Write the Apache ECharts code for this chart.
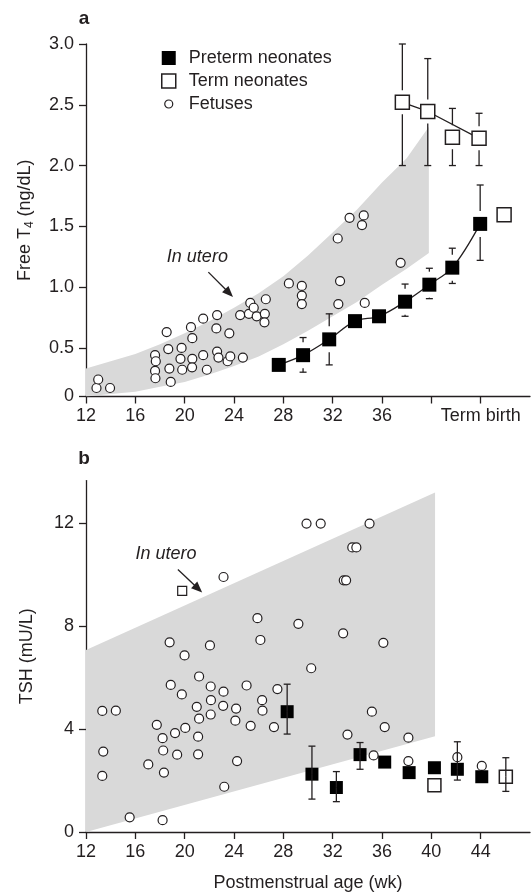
<!DOCTYPE html>
<html><head><meta charset="utf-8">
<script src="https://cdn.jsdelivr.net/npm/echarts@6/dist/echarts.min.js"></script>
<style>html,body{margin:0;padding:0;background:#fff}#c{width:531px;height:893px}</style>
</head><body><div id="c"></div>
<script>
// ---------- Panel a: Free T4 (ng/dL) ----------
const fetusT4 = [
 [12.85,0.17],[12.99,0.24],[13.95,0.17],[17.60,0.44],[17.66,0.39],[17.60,0.31],[17.63,0.25],
 [18.54,0.63],[18.67,0.49],[18.76,0.33],[18.87,0.22],[19.75,0.50],[19.66,0.41],[19.80,0.32],
 [20.51,0.67],[20.62,0.58],[20.62,0.41],[20.60,0.34],[21.50,0.74],[21.50,0.44],[21.80,0.32],
 [22.63,0.77],[22.57,0.66],[22.63,0.47],[22.74,0.42],[23.62,0.62],[23.48,0.39],[23.70,0.43],
 [24.72,0.42],[24.50,0.77],[25.32,0.87],[25.21,0.78],[25.60,0.83],[25.84,0.76],[26.58,0.90],
 [26.50,0.78],[26.47,0.71],[28.45,1.03],[29.50,1.01],[29.50,0.93],[29.50,0.86],[32.60,1.05],
 [32.46,0.86],[34.60,0.87],[37.51,1.20],[32.41,1.40],[33.37,1.57],[34.38,1.51],[34.52,1.59]
];
const pretermT4Age = [27.63, 29.60, 31.72, 33.81, 35.76, 37.87, 39.84, 41.70, 43.96];
const pretermT4    = [0.36, 0.44, 0.57, 0.72, 0.76, 0.88, 1.02, 1.16, 1.52];
const pretermT4Lo  = [null, 0.30, 0.36, null, null, 0.76, 0.905, 1.03, 1.22];
const pretermT4Hi  = [null, 0.585, 0.78, null, null, 1.025, 1.155, 1.32, 1.84];
const termT4Age = [37.65, 39.71, 41.71, 43.87, 45.90];
const termT4    = [2.52, 2.445, 2.233, 2.224, 1.595];
const termT4Lo  = [2.0, 2.0, 2.0, 2.0, null];
const termT4Hi  = [3.0, 2.88, 2.47, 2.43, null];
const termT4LineAge = [37.65, 39.71, 43.87];
const termT4Line    = [2.52, 2.445, 2.224];
const bandT4Age   = [12, 14, 16, 18, 20, 22, 24, 26, 28, 30, 32, 34, 36, 38, 39.8];
const bandT4Upper = [0.33,0.39,0.45,0.53,0.62,0.72,0.83,0.95,1.09,1.26,1.45,1.64,1.86,2.06,2.32];
const bandT4Lower = [0.10,0.12,0.14,0.18,0.22,0.28,0.35,0.43,0.53,0.64,0.76,0.88,1.02,1.15,1.28];
const t4Ticks = [0.1, 0.5, 1.0, 1.5, 2.0, 2.5, 3.0];
const t4TickText = ['0', '0.5', '1.0', '1.5', '2.0', '2.5', '3.0'];
const ageTicks = [12, 16, 20, 24, 28, 32, 36, 40, 44];
const ageLabelsA = [12, 16, 20, 24, 28, 32, 36, 44];
const ageLabelsB = [12, 16, 20, 24, 28, 32, 36, 40, 44];

// ---------- Panel b: TSH (mU/L) ----------
const fetusTSH = [
 [29.88,12.0],[31.03,12.0],[34.99,12.0],[33.59,11.07],[33.92,11.07],[32.90,9.79],[33.09,9.79],[23.15,9.92],
 [25.90,8.32],[29.22,8.10],[32.85,7.73],[36.11,7.36],[18.78,7.38],[22.05,7.26],[26.14,7.47],[19.99,6.87],
 [30.26,6.37],[21.17,6.05],[18.87,5.72],[22.11,5.66],[25.02,5.70],[27.52,5.56],[19.77,5.35],[23.15,5.46],
 [22.13,5.13],[26.28,5.13],[13.32,4.71],[14.42,4.72],[20.98,4.87],[23.12,4.91],[24.17,4.80],[26.31,4.72],
 [35.18,4.68],[21.17,4.41],[22.11,4.57],[24.11,4.33],[17.74,4.17],[20.05,4.05],[25.35,4.13],[27.24,4.08],
 [36.22,4.08],[19.22,3.85],[18.21,3.65],[21.09,3.71],[33.20,3.79],[38.14,3.67],[13.40,3.13],[18.26,3.17],
 [19.39,3.01],[21.09,3.02],[17.05,2.63],[24.25,2.76],[35.32,2.98],[38.14,2.76],[42.11,2.91],[44.09,2.57],
 [13.32,2.18],[18.32,2.31],[23.21,1.76],[15.54,0.57],[18.21,0.46]
];
const pretermTSHAge = [28.31, 30.32, 32.30, 34.22, 36.22, 38.20, 40.25, 42.11, 44.09];
const pretermTSH    = [4.68, 2.25, 1.73, 3.01, 2.72, 2.31, 2.50, 2.44, 2.15];
const pretermTSHLo  = [3.81, 1.28, 1.18, 2.44, null, null, null, 2.02, null];
const pretermTSHHi  = [5.75, 3.34, 2.35, 3.48, null, null, null, 3.51, null];
const termTSHAge = [40.25, 46.04];
const termTSH    = [1.82, 2.15];
const termTSHLo  = [null, 1.58];
const termTSHHi  = [null, 2.89];
const termTSHSmallAge = [19.80];
const termTSHSmall    = [9.38];
const bandTSHAge   = [12, 40.3];
const bandTSHUpper = [7.08, 13.21];
const bandTSHLower = [0, 3.72];
const tshTicks = [0, 4, 8, 12];

// annotations (data coordinates)
const noteA = {label: 'In utero', textAt: [21.03, 1.25], from: [21.92, 1.123], to: [23.92, 0.919]};
const noteB = {label: 'In utero', textAt: [18.49, 10.81], from: [19.45, 10.21], to: [21.42, 9.32]};

// ---------- build ----------
const FONT = '"Liberation Sans", Arial, Helvetica, sans-serif';
const INK = '#231f20';
const BAND = '#d9d9d9';
const zip = (xs, ys) => xs.map((x, i) => [x, ys[i]]);
const errRows = (xs, ys, lo, hi) => xs.map((x, i) => [x, ys[i], lo[i] == null ? -1 : lo[i], hi[i] == null ? -1 : hi[i]])
  .filter(r => r[2] >= 0 || r[3] >= 0);

function errRender(gap) {
  return function (params, api) {
    const x = api.value(0), y = api.value(1), lo = api.value(2), hi = api.value(3);
    const c = api.coord([x, y]);
    const st = {stroke: INK, lineWidth: 1.3};
    const cw = 3.5, kids = [];
    if (hi >= 0) {
      const p = api.coord([x, hi]);
      const end = c[1] - gap;
      if (p[1] < end) kids.push({type: 'line', shape: {x1: c[0], y1: p[1], x2: c[0], y2: end}, style: st});
      kids.push({type: 'line', shape: {x1: c[0] - cw, y1: p[1], x2: c[0] + cw, y2: p[1]}, style: st});
    }
    if (lo >= 0) {
      const p = api.coord([x, lo]);
      const end = c[1] + gap;
      if (p[1] > end) kids.push({type: 'line', shape: {x1: c[0], y1: end, x2: c[0], y2: p[1]}, style: st});
      kids.push({type: 'line', shape: {x1: c[0] - cw, y1: p[1], x2: c[0] + cw, y2: p[1]}, style: st});
    }
    return {type: 'group', children: kids};
  };
}
function bandRender(ages, up, low) {
  return function (params, api) {
    const pts = [];
    ages.forEach((a, i) => pts.push(api.coord([a, up[i]])));
    for (let i = ages.length - 1; i >= 0; i--) pts.push(api.coord([ages[i], low[i]]));
    return {type: 'polygon', shape: {points: pts}, style: {fill: BAND}, silent: true};
  };
}
function noteRender(n) {
  return function (params, api) {
    const p1 = api.coord(n.from), p2 = api.coord(n.to), pt = api.coord(n.textAt);
    const dx = p2[0] - p1[0], dy = p2[1] - p1[1], L = Math.hypot(dx, dy), ux = dx / L, uy = dy / L;
    const hl = 11, hw = 4.5, bx = p2[0] - ux * hl, by = p2[1] - uy * hl;
    return {type: 'group', children: [
      {type: 'line', shape: {x1: p1[0], y1: p1[1], x2: bx + ux * 2, y2: by + uy * 2}, style: {stroke: INK, lineWidth: 1.3}},
      {type: 'polygon', shape: {points: [[p2[0], p2[1]], [bx - uy * hw, by + ux * hw], [bx + uy * hw, by - ux * hw]]}, style: {fill: INK}},
      {type: 'text', x: pt[0], y: pt[1], style: {text: n.label, font: 'italic 18px ' + FONT, fill: INK, align: 'center', verticalAlign: 'middle'}}
    ]};
  };
}

const axisLineStyle = {color: INK, width: 1.3};
const labelStyle = {color: INK, fontSize: 18, fontFamily: FONT};
function xAxisDef(grid, labels, fmt, name) {
  return {
    gridIndex: grid, type: 'value', min: 12, max: 48,
    axisLine: {lineStyle: axisLineStyle},
    axisTick: {length: 7, lineStyle: axisLineStyle, customValues: ageTicks},
    axisLabel: Object.assign({margin: 11, customValues: labels, formatter: fmt}, labelStyle),
    splitLine: {show: false},
    name: name || '', nameLocation: 'middle', nameGap: 42,
    nameTextStyle: {color: INK, fontSize: 18, fontFamily: FONT}
  };
}
const sqA = 14, sqB = 13, dot = 9;

const option = {
  animation: false,
  backgroundColor: '#fff',
  textStyle: {fontFamily: FONT},
  grid: [
    {left: 86, right: 1, top: 44, height: 352.5},
    {left: 86, right: 1, top: 480.6, height: 352.2}
  ],
  xAxis: [
    xAxisDef(0, ageLabelsA, v => (v === 44 ? 'Term birth' : String(v))),
    xAxisDef(1, ageLabelsB, v => String(v), 'Postmenstrual age (wk)')
  ],
  yAxis: [
    {gridIndex: 0, type: 'value', min: t4Ticks[0], max: 3.0,
     axisLine: {show: true, lineStyle: axisLineStyle},
     axisTick: {show: true, length: 7, lineStyle: axisLineStyle, customValues: t4Ticks},
     axisLabel: Object.assign({margin: 12, customValues: t4Ticks,
       formatter: v => t4TickText[t4Ticks.findIndex(t => Math.abs(t - v) < 1e-6)] ?? ''}, labelStyle),
     splitLine: {show: false},
     name: '{a|Free T}{b|4}{a| (ng/dL)}', nameLocation: 'middle', nameGap: 50,
     nameTextStyle: {rich: {a: {fontSize: 18, color: INK, fontFamily: FONT, lineHeight: 22},
                            b: {fontSize: 12, color: INK, fontFamily: FONT, verticalAlign: 'bottom'}}}},
    {gridIndex: 1, type: 'value', min: 0, max: 13.67,
     axisLine: {show: true, lineStyle: axisLineStyle},
     axisTick: {show: true, length: 7, lineStyle: axisLineStyle, customValues: tshTicks},
     axisLabel: Object.assign({margin: 12, customValues: tshTicks}, labelStyle),
     splitLine: {show: false},
     name: 'TSH (mU/L)', nameLocation: 'middle', nameGap: 50,
     nameTextStyle: {color: INK, fontSize: 18, fontFamily: FONT}}
  ],
  legend: {
    orient: 'vertical', left: 156, top: 44, itemWidth: 22, itemHeight: 14, itemGap: 5,
    selectedMode: false,
    textStyle: {color: INK, fontSize: 18, fontFamily: FONT},
    data: [
      {name: 'Preterm neonates', icon: 'path://M0,0L14,0L14,14L0,14Z M22,14',
       itemStyle: {color: '#000', borderWidth: 0}},
      {name: 'Term neonates', icon: 'path://M0,0L14,0L14,14L0,14Z M22,14',
       itemStyle: {color: '#fff', borderColor: INK, borderWidth: 1.5}},
      {name: 'Fetuses', icon: 'path://M0,0 M22,14 M11,7A4,4 0 1 1 3,7A4,4 0 1 1 11,7Z',
       itemStyle: {color: '#fff', borderColor: INK, borderWidth: 1.2}}
    ]
  },
  graphic: [
    {type: 'text', x: 84, y: 19, style: {text: 'a', font: 'bold 19px ' + FONT, fill: INK, align: 'center', verticalAlign: 'middle'}},
    {type: 'text', x: 84, y: 459, style: {text: 'b', font: 'bold 19px ' + FONT, fill: INK, align: 'center', verticalAlign: 'middle'}}
  ],
  series: [
    // ----- panel a -----
    {type: 'custom', name: 'bandA', xAxisIndex: 0, yAxisIndex: 0, z: 1, clip: true, silent: true,
     renderItem: bandRender(bandT4Age, bandT4Upper, bandT4Lower), data: [[bandT4Age[0], bandT4Lower[0]]]},
    {type: 'custom', name: 'noteA', xAxisIndex: 0, yAxisIndex: 0, z: 6, silent: true,
     renderItem: noteRender(noteA), data: [noteA.to]},
    {type: 'line', name: 'pretermFitA', xAxisIndex: 0, yAxisIndex: 0, z: 2, smooth: 0.35, showSymbol: false,
     lineStyle: {color: INK, width: 1.3}, data: zip(pretermT4Age, pretermT4)},
    {type: 'line', name: 'termFitA', xAxisIndex: 0, yAxisIndex: 0, z: 2, showSymbol: false,
     lineStyle: {color: INK, width: 1.3}, data: zip(termT4LineAge, termT4Line)},
    {type: 'custom', name: 'errA1', xAxisIndex: 0, yAxisIndex: 0, z: 3,
     renderItem: errRender(13), data: errRows(pretermT4Age, pretermT4, pretermT4Lo, pretermT4Hi)},
    {type: 'custom', name: 'errA2', xAxisIndex: 0, yAxisIndex: 0, z: 3,
     renderItem: errRender(12), data: errRows(termT4Age, termT4, termT4Lo, termT4Hi)},
    {type: 'scatter', name: 'Fetuses', xAxisIndex: 0, yAxisIndex: 0, z: 4, symbol: 'circle', symbolSize: dot,
     itemStyle: {color: '#fff', borderColor: INK, borderWidth: 1.2, opacity: 1}, data: fetusT4},
    {type: 'scatter', name: 'Preterm neonates', xAxisIndex: 0, yAxisIndex: 0, z: 5, symbol: 'rect', symbolSize: sqA,
     itemStyle: {color: '#000', opacity: 1}, data: zip(pretermT4Age, pretermT4)},
    {type: 'scatter', name: 'Term neonates', xAxisIndex: 0, yAxisIndex: 0, z: 5, symbol: 'rect', symbolSize: sqA,
     itemStyle: {color: '#fff', borderColor: INK, borderWidth: 1.5, opacity: 1}, data: zip(termT4Age, termT4)},
    // ----- panel b -----
    {type: 'custom', name: 'bandB', xAxisIndex: 1, yAxisIndex: 1, z: 1, clip: true, silent: true,
     renderItem: bandRender(bandTSHAge, bandTSHUpper, bandTSHLower), data: [[bandTSHAge[0], bandTSHLower[0]]]},
    {type: 'custom', name: 'noteB', xAxisIndex: 1, yAxisIndex: 1, z: 6, silent: true,
     renderItem: noteRender(noteB), data: [noteB.to]},
    {type: 'scatter', name: 'Fetuses', xAxisIndex: 1, yAxisIndex: 1, z: 4, symbol: 'circle', symbolSize: dot,
     itemStyle: {color: '#fff', borderColor: INK, borderWidth: 1.2, opacity: 1}, data: fetusTSH},
    {type: 'scatter', name: 'Preterm neonates', xAxisIndex: 1, yAxisIndex: 1, z: 5, symbol: 'rect', symbolSize: sqB,
     itemStyle: {color: '#000', opacity: 1}, data: zip(pretermTSHAge, pretermTSH)},
    {type: 'scatter', name: 'Term neonates', xAxisIndex: 1, yAxisIndex: 1, z: 5, symbol: 'rect', symbolSize: sqB,
     itemStyle: {color: '#fff', borderColor: INK, borderWidth: 1.5, opacity: 1}, data: zip(termTSHAge, termTSH)},
    {type: 'scatter', name: 'termSmallB', xAxisIndex: 1, yAxisIndex: 1, z: 5, symbol: 'rect', symbolSize: 9,
     itemStyle: {color: '#fff', borderColor: INK, borderWidth: 1.2, opacity: 1}, data: zip(termTSHSmallAge, termTSHSmall)},
    {type: 'custom', name: 'errB1', xAxisIndex: 1, yAxisIndex: 1, z: 6,
     renderItem: errRender(0), data: errRows(pretermTSHAge, pretermTSH, pretermTSHLo, pretermTSHHi)},
    {type: 'custom', name: 'errB2', xAxisIndex: 1, yAxisIndex: 1, z: 6,
     renderItem: errRender(0), data: errRows(termTSHAge, termTSH, termTSHLo, termTSHHi)}
  ]
};
const chart = echarts.init(document.getElementById('c'), null, {renderer: 'canvas'});
chart.setOption(option);
</script>
</body></html>
